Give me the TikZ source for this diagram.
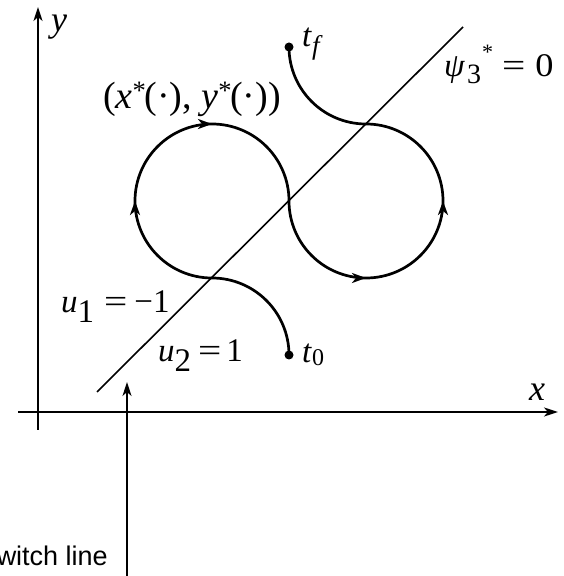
\documentclass[tikz,border=0pt]{standalone}
\usepackage{fontspec}
\setmainfont{Liberation Serif}
\newfontfamily\arialfont{Liberation Sans}
\usetikzlibrary{arrows.meta,decorations.markings}
\newcommand{\lowsub}[2]{\raisebox{#1}{#2}}
\newcommand{\wideeq}{\scalebox{1.25}[1]{=}}
\tikzset{
  axis/.style={line width=2.2pt,-{Stealth[length=14pt,width=9pt,inset=4pt]}},
  traj/.style={line width=2.7pt},
  swline/.style={line width=1.6pt},
  dotnode/.style={circle,fill=black,inner sep=0pt,minimum size=9pt},
  lab/.style={inner sep=0pt,anchor=base west,font=\fontsize{33}{36}\selectfont},
  midarrows/.style={postaction={decorate,decoration={markings,
    mark=at position 0.25 with {\arrow{Stealth[length=14pt,width=10pt,inset=4pt]}},
    mark=at position 0.375 with {\arrow{Stealth[length=14pt,width=10pt,inset=4pt]}},
    mark=at position 0.625 with {\arrow{Stealth[length=14pt,width=10pt,inset=4pt]}},
    mark=at position 0.75 with {\arrow{Stealth[length=14pt,width=10pt,inset=4pt]}}}}}
}
\begin{document}
\begin{tikzpicture}[x=1pt,y=1pt]
\useasboundingbox (0,0) rectangle (563,576);
% axes
\coordinate (yb) at (38,146);
\coordinate (yt) at (38,569);
\coordinate (xl) at (18,164);
\coordinate (xr) at (558,164);
\draw[axis] (yb) -- (yt);
\draw[axis] (xl) -- (xr);
\node[lab,font=\fontsize{36}{40}\selectfont] (ylab) at (51,544) {\textit{y}};
\node[lab,font=\fontsize{36}{40}\selectfont] (xlab) at (529,175) {\textit{x}};
% switch line
\coordinate (s1) at (97,184);
\coordinate (s2) at (463,549);
\draw[swline] (s1) -- (s2);
% trajectory
\coordinate (t0) at (289,221);
\coordinate (tf) at (289,529);
\draw[traj,midarrows] (t0) arc[start angle=0,end angle=90,radius=77]
  arc[start angle=270,end angle=0,radius=77]
  arc[start angle=180,end angle=450,radius=77]
  arc[start angle=270,end angle=180,radius=77];
\node[dotnode] (d0) at (t0) {};
\node[dotnode] (df) at (tf) {};
\node[lab] (t0lab) at (302,213) {\textit{t}\lowsub{-3pt}{\fontsize{24}{26}\selectfont 0}};
\node[lab] (tflab) at (302,529) {\textit{t}\lowsub{-8pt}{\fontsize{27}{28}\selectfont\textit{f}}};
\node[lab,font=\fontsize{38}{42}\selectfont] (trajlab) at (103,467) {(\textit{x}\textsuperscript{*}\kern-2pt(·), \textit{y}\textsuperscript{*}\kern-2pt(·))};
\node[lab] (psilab) at (444,499) {\textit{ψ}\kern2pt\lowsub{-7pt}{\fontsize{28}{30}\selectfont 3}\kern1pt\lowsub{17pt}{\fontsize{22}{24}\selectfont *}\kern9pt\wideeq\kern10pt\scalebox{1.1}[1]{0}};
\node[lab] (u1lab) at (61,263) {\textit{u}\lowsub{-10pt}{1}\kern10pt\wideeq\kern7pt−1};
\node[lab] (u2lab) at (158,214) {\textit{u}\lowsub{-10pt}{2}\kern7pt\wideeq\kern5pt1};
% switch line pointer
\coordinate (pb) at (127,-5);
\coordinate (pt) at (127,194);
\draw[line width=1.8pt,-{Stealth[length=14pt,width=9pt,inset=4pt]}] (pb) -- (pt);
\node[inner sep=0pt,anchor=base east,font=\arialfont\fontsize{27}{30}\selectfont] (swlab) at (108,10) {Switch line};
\end{tikzpicture}
\end{document}
